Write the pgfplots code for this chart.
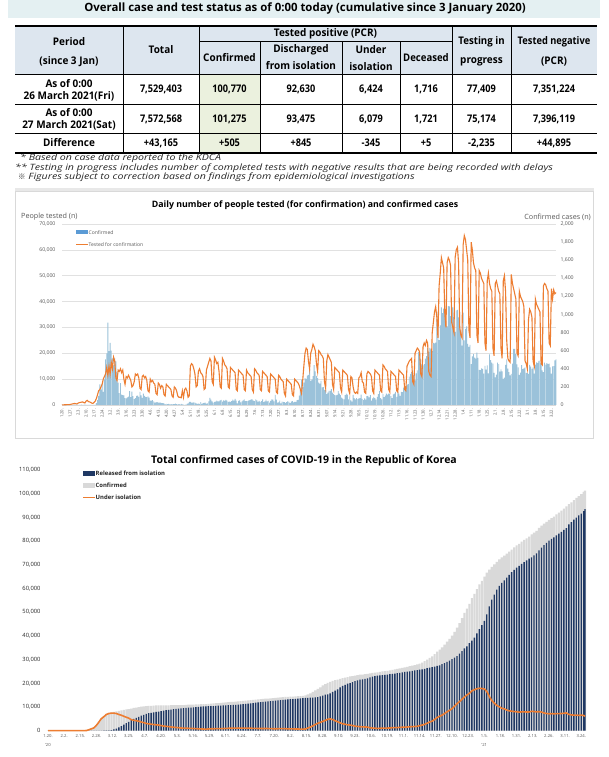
\documentclass[border=0pt]{standalone}
\usepackage{fontspec}
\setmainfont{Open Sans}
\newfontfamily\tabfont{Open Sans}[FakeStretch=0.95]
\newfontfamily\footfont{Open Sans}[FakeStretch=1.22]
\newfontfamily\cjk{Noto Sans CJK KR}
\usepackage{graphicx}
\usepackage{pgfplots}
\usepackage{pgfplotstable}
\pgfplotsset{compat=1.18}
\definecolor{banner}{HTML}{E4F0F2}
\definecolor{hdr}{HTML}{DDE6EF}
\definecolor{conf}{HTML}{EBF1DE}
\definecolor{orng}{HTML}{ED7D31}
\definecolor{barblue}{HTML}{9BC2DA}
\definecolor{legblue}{HTML}{5B9BD5}
\definecolor{navy}{HTML}{1F3864}
\definecolor{lgrey}{HTML}{D9D9D9}
\definecolor{tickc}{HTML}{595959}
\definecolor{dtext}{HTML}{262626}

\pgfplotstableread[row sep=\\]{
v\\
50\\60\\80\\100\\120\\150\\120\\
200\\300\\400\\500\\600\\500\\400\\
700\\900\\1000\\1100\\1200\\900\\800\\
1500\\1800\\1300\\1200\\1000\\700\\600\\
1000\\1500\\2500\\4000\\5500\\6000\\7000\\
8000\\10000\\11000\\12000\\14500\\11500\\15000\\
12000\\16500\\14000\\18500\\17000\\10500\\9500\\
13500\\13000\\14000\\12500\\13500\\10000\\8000\\
11000\\10500\\11500\\10500\\9500\\7000\\7500\\
9000\\12000\\11500\\12000\\10500\\6500\\6000\\
11000\\11500\\10500\\11000\\9500\\5500\\5000\\
10000\\9000\\9500\\8500\\8000\\4500\\4000\\
8500\\8000\\6500\\7500\\7000\\4000\\3500\\
8000\\7500\\7000\\6500\\6000\\3500\\3000\\
7000\\6500\\5500\\3500\\3000\\3000\\2800\\
5500\\3000\\6000\\6500\\5500\\3000\\3500\\
15000\\16000\\15500\\14000\\12000\\7000\\7500\\
13000\\14000\\12500\\12000\\11000\\6000\\6500\\
13500\\15000\\16500\\18000\\17000\\9000\\8000\\
18500\\17500\\16000\\16500\\13000\\7000\\6500\\
18000\\17000\\15500\\15000\\14000\\7000\\6500\\
14500\\14000\\13500\\13000\\12500\\6000\\5500\\
13500\\13000\\12500\\12000\\11500\\6000\\5500\\
13500\\12500\\12000\\11500\\11000\\6000\\5000\\
14000\\13500\\12500\\12000\\11500\\6000\\5500\\
13000\\12500\\12000\\11500\\11000\\5500\\5000\\
12000\\11500\\11000\\10500\\10000\\5000\\4500\\
11500\\11000\\10000\\9500\\9000\\4500\\3500\\
10000\\9500\\9000\\8500\\8000\\4000\\3500\\
10000\\9500\\9000\\8500\\7500\\6000\\4500\\
9500\\15000\\20000\\22000\\21500\\17000\\14000\\
20000\\21500\\23500\\22500\\21000\\16000\\13000\\
21000\\20500\\19500\\19000\\18000\\9000\\6500\\
17000\\19500\\18500\\17500\\16500\\8000\\6000\\
14500\\14000\\13500\\13000\\12500\\6500\\5000\\
13500\\13000\\12500\\12000\\11500\\6000\\4500\\
11000\\10500\\7000\\5000\\4500\\5000\\4500\\
10500\\11000\\12500\\9000\\8500\\5000\\4500\\
12000\\13000\\12500\\12000\\11000\\5500\\4500\\
13500\\13000\\12500\\12000\\11500\\5500\\5000\\
15500\\15000\\14000\\13500\\13000\\6000\\5000\\
13000\\12500\\12000\\11500\\11000\\5500\\5000\\
13500\\13000\\12500\\12000\\11500\\6000\\5500\\
15000\\16000\\17000\\17500\\18000\\9000\\8000\\
20000\\21000\\22000\\21500\\20500\\12000\\11000\\
22500\\24000\\23000\\25000\\24000\\13000\\11500\\
11000\\28000\\32000\\36000\\38000\\34000\\26000\\
46000\\51000\\57000\\55000\\53000\\35000\\30000\\
55000\\57000\\56000\\54000\\32000\\30000\\28000\\
57000\\60000\\61000\\55000\\30000\\27000\\26000\\
62000\\65500\\64000\\60000\\56000\\29000\\26000\\
63000\\60000\\55000\\53000\\52000\\27000\\24000\\
52000\\51000\\49000\\48000\\47000\\24000\\21000\\
48000\\51000\\47000\\45000\\44000\\22000\\19000\\
47000\\48000\\46000\\44000\\43000\\22000\\18000\\
48000\\50000\\44000\\25000\\18000\\17000\\16500\\
50500\\47000\\45000\\43000\\41000\\20000\\19000\\
44000\\42000\\41000\\40000\\38000\\17000\\16000\\
14000\\33000\\37000\\36000\\34000\\17000\\15000\\
41000\\39000\\38000\\37000\\36000\\16000\\15500\\
46000\\47000\\46500\\45000\\44000\\24000\\23000\\
45000\\41000\\44500\\43000\\43500\\
}\tests

\pgfplotstableread[row sep=\\]{
v\\
1\\0\\0\\0\\1\\0\\1\\1\\0\\0\\2\\5\\
1\\3\\0\\1\\2\\4\\1\\0\\3\\0\\1\\0\\0\\0\\0\\1\\0\\1\\20\\53\\100\\229\\169\\231\\144\\284\\505\\571\\909\\
595\\686\\600\\516\\438\\518\\483\\367\\248\\131\\242\\114\\110\\107\\76\\74\\84\\93\\152\\87\\147\\98\\64\\76\\100\\104\\91\\146\\105\\78\\125\\
101\\89\\86\\94\\81\\47\\47\\53\\39\\27\\30\\32\\25\\27\\27\\22\\22\\18\\8\\13\\9\\11\\8\\6\\10\\10\\10\\14\\9\\4\\
9\\6\\13\\8\\3\\2\\4\\12\\18\\34\\35\\27\\26\\29\\27\\19\\13\\15\\13\\32\\12\\20\\23\\25\\16\\19\\40\\79\\58\\39\\27\\
35\\38\\49\\39\\39\\51\\57\\38\\50\\45\\56\\49\\34\\37\\34\\43\\59\\49\\67\\48\\17\\46\\51\\28\\39\\51\\62\\42\\43\\42\\
51\\54\\63\\61\\48\\44\\62\\50\\35\\45\\35\\44\\62\\33\\39\\60\\39\\45\\26\\45\\63\\59\\41\\113\\58\\25\\28\\48\\18\\36\\34\\
31\\23\\33\\43\\34\\20\\36\\43\\28\\34\\34\\54\\56\\103\\166\\279\\197\\246\\297\\288\\324\\332\\397\\266\\280\\320\\441\\371\\323\\299\\248\\
235\\267\\195\\198\\168\\167\\119\\136\\156\\155\\176\\136\\121\\109\\106\\113\\153\\126\\110\\82\\70\\61\\110\\125\\114\\61\\95\\50\\38\\113\\
77\\63\\75\\64\\73\\75\\114\\69\\54\\72\\58\\97\\102\\84\\110\\47\\73\\91\\76\\58\\89\\121\\155\\77\\61\\119\\88\\103\\125\\114\\127\\
124\\97\\75\\118\\125\\145\\89\\143\\126\\100\\146\\143\\191\\205\\208\\223\\230\\313\\343\\363\\386\\330\\271\\349\\382\\583\\569\\504\\450\\438\\
451\\511\\540\\629\\583\\631\\615\\594\\686\\682\\689\\950\\1030\\718\\880\\1078\\1014\\1064\\1097\\926\\869\\1092\\1090\\985\\1100\\1080\\970\\807\\1045\\1050\\967\\
1029\\824\\657\\1020\\715\\840\\869\\674\\641\\665\\451\\537\\562\\524\\513\\580\\520\\389\\386\\404\\400\\346\\431\\392\\437\\349\\559\\497\\469\\458\\355\\
305\\336\\467\\451\\370\\393\\372\\289\\303\\444\\504\\403\\362\\326\\344\\457\\621\\621\\561\\448\\416\\332\\357\\440\\396\\406\\415\\356\\
355\\344\\444\\424\\398\\416\\346\\446\\470\\465\\488\\490\\459\\382\\363\\469\\445\\463\\452\\456\\415\\346\\428\\430\\494\\505\\
}\cases

\pgfplotstableread[row sep=\\]{
d C R I\\
0 1 0 1\\ 1 1 0 1\\ 3 1 0 1\\ 5 2 0 2\\ 7 4 0 4\\ 9 4 0 4\\ 11 11 0 11\\ 13 15 0 15\\
15 16 0 16\\ 17 23 1 22\\ 19 24 2 22\\ 21 27 3 24\\ 23 28 7 21\\ 25 28 7 21\\ 27 29 9 20\\
29 31 12 19\\ 31 104 16 87\\ 33 433 16 415\\ 35 833 18 807\\ 37 1261 22 1227\\ 39 2337 24 2300\\
41 3736 30 3690\\ 43 5186 34 5120\\ 45 6088 108 5940\\ 47 7041 135 6860\\ 49 7478 166 7260\\
51 7755 288 7400\\ 53 7979 510 7400\\ 55 8162 834 7250\\ 57 8320 1401 6830\\ 59 8565 1947 6530\\
61 8799 2612 6080\\ 63 8961 3166 5680\\ 65 9137 3730 5280\\ 67 9332 4528 4660\\ 69 9583 5033 4400\\
71 9786 5408 4220\\ 73 9976 5828 3980\\ 75 10156 6325 3650\\ 77 10284 6694 3410\\ 79 10384 7117 3070\\
81 10450 7368 2870\\ 83 10512 7534 2760\\ 85 10564 7757 2580\\ 87 10635 7937 2470\\ 89 10653 8042 2380\\
91 10674 8277 2160\\ 93 10694 8501 1950\\ 95 10718 8635 1840\\ 97 10738 8764 1730\\ 99 10752 8922 1580\\
101 10774 9059 1470\\ 103 10793 9183 1360\\ 105 10806 9283 1270\\ 107 10810 9419 1135\\ 109 10840 9484 1100\\
111 10909 9610 1040\\ 113 10962 9695 1010\\ 115 11018 9772 980\\ 117 11050 9851 930\\ 119 11078 9938 870\\
121 11122 10066 790\\ 123 11165 10162 740\\ 125 11206 10226 710\\ 127 11225 10295 660\\ 129 11344 10340 735\\
131 11441 10363 810\\ 133 11503 10398 835\\ 135 11590 10467 850\\ 137 11668 10531 865\\ 139 11776 10611 890\\
141 11852 10669 910\\ 143 11947 10718 955\\ 145 12051 10760 1015\\ 147 12121 10800 1040\\ 149 12198 10856 1060\\
151 12306 10930 1095\\ 153 12421 11020 1120\\ 155 12484 11117 1085\\ 157 12563 11172 1110\\ 159 12653 11317 1055\\
161 12757 11429 1045\\ 163 12850 11537 1030\\ 165 12967 11684 1000\\ 167 13091 11832 975\\ 169 13181 11970 925\\
171 13293 12066 940\\ 173 13417 12204 925\\ 175 13512 12282 940\\ 177 13551 12348 910\\ 179 13672 12504 870\\
181 13745 12604 840\\ 183 13816 12698 820\\ 185 13938 12801 840\\ 187 14092 12905 890\\ 189 14175 13007 870\\
191 14251 13106 845\\ 193 14305 13233 770\\ 195 14366 13280 785\\ 197 14423 13352 770\\ 199 14499 13475 720\\
201 14562 13550 710\\ 203 14626 13642 680\\ 205 14714 13727 680\\ 207 14873 13863 705\\ 209 15318 13901 1110\\
211 15761 13934 1520\\ 213 16346 14006 2030\\ 215 17002 14100 2590\\ 217 17665 14219 3135\\ 219 18265 14461 3490\\
221 19077 14818 3940\\ 223 19699 15198 4300\\ 225 20182 15356 4800\\ 227 20644 15769 5000\\ 229 21010 16427 4700\\
231 21296 16863 4200\\ 233 21588 17474 3770\\ 235 21919 18253 3310\\ 237 22176 18888 2920\\ 239 22391 19310 2710\\
241 22657 19817 2470\\ 243 22893 20125 2380\\ 245 23045 20487 2170\\ 247 23216 20905 1920\\ 249 23455 21257 1800\\
251 23611 21533 1680\\ 253 23699 21704 1590\\ 255 23889 21893 1580\\ 257 24027 22088 1520\\ 259 24164 22504 1240\\
261 24353 22812 1120\\ 263 24476 22998 1050\\ 265 24606 23197 980\\ 267 24805 23345 1020\\ 269 24988 23443 1100\\
271 25108 23568 1090\\ 273 25275 23712 1110\\ 275 25424 23822 1150\\ 277 25698 23975 1270\\ 279 25836 24080 1300\\
281 26043 24259 1320\\ 283 26271 24395 1410\\ 285 26511 24600 1450\\ 287 26732 24790 1480\\ 289 26925 24910 1550\\
291 27195 25078 1650\\ 293 27427 25260 1700\\ 295 27653 25412 1770\\ 297 27942 25597 1860\\ 299 28338 25717 2130\\
301 28769 25916 2360\\ 303 29311 26117 2690\\ 305 30017 26365 3150\\ 307 30733 26566 3660\\ 309 31353 26825 4010\\
311 32318 27074 4730\\ 313 33375 27326 5530\\ 315 34201 27598 6070\\ 317 35163 28065 6570\\ 319 36332 28552 7230\\
321 37546 28998 7990\\ 323 38745 29612 8560\\ 325 40098 30200 9310\\ 327 41736 30874 10260\\ 329 43484 31493 11380\\
331 45442 32559 12260\\ 333 47515 33610 13230\\ 335 49665 34714 14210\\ 337 51460 35598 15090\\ 339 53533 36997 15730\\
341 55902 38000 16800\\ 343 57680 39300 17300\\ 345 59773 41100 17700\\ 347 61769 42900 17900\\ 349 63244 44500 17800\\
351 64979 46300 17600\\ 353 66686 49100 16500\\ 355 68004 52500 14500\\ 357 69114 55291 12700\\ 359 70212 57410 11630\\
361 71241 59500 10660\\ 363 72340 61095 10140\\ 365 73115 62370 9480\\ 367 73918 63450 9220\\ 369 74692 64626 8730\\
371 75521 65784 8380\\ 373 76429 66870 8220\\ 375 77395 67905 8070\\ 377 78205 68773 7990\\ 379 78844 69589 7820\\
381 79762 70357 7960\\ 383 80524 71145 7940\\ 385 81185 71842 7900\\ 387 81930 72581 7900\\ 389 82837 73180 8190\\
391 83525 73960 8070\\ 393 84325 74850 7960\\ 395 85567 76038 8010\\ 397 86576 77197 7860\\ 399 87324 78316 7470\\
401 88120 79299 7270\\ 403 88922 80220 7150\\ 405 89676 80915 7180\\ 407 90372 81596 7160\\ 409 91240 82439 7180\\
411 92055 83200 7230\\ 413 92817 83941 7240\\ 415 93733 84698 7370\\ 417 94686 85520 7490\\ 419 95635 87098 6860\\
421 96380 88024 6670\\ 423 97294 89045 6560\\ 425 98209 89952 6560\\ 427 98971 90807 6470\\ 429 99846 91551 6590\\
431 100770 92630 6424\\ 432 101275 93475 6079\\
}\cum

\newcommand\tb{\tabfont\fontsize{10.5}{12}\selectfont\bfseries}

\pgfplotsset{
  cone/.style={at={(62pt,352pt)}, anchor=south west, scale only axis,
    width=494pt, height=181pt, xmin=0, xmax=431, clip=false,
    major tick length=0pt, scaled y ticks=false,
    /pgf/number format/fixed, /pgf/number format/precision=0,
    /pgf/number format/1000 sep={,},
    /pgf/number format/assume math mode=true},
}

\begin{document}
\begin{tikzpicture}[x=1pt,y=1pt]
\path[use as bounding box] (0,0) rectangle (608,757);
\fill[white] (0,0) rectangle (608,757);
% ---------- banner ----------
\fill[banner] (8,757) rectangle (600,739);
\node[font=\fontsize{11.4}{13}\selectfont\bfseries, inner sep=0pt] at (305,748.3)
  {Overall case and test status as of 0:00 today (cumulative since 3 January 2020)};
% ---------- table ----------
\fill[hdr] (15,757-26) rectangle (597,757-74);
\fill[conf] (199,757-74) rectangle (260,757-153);
\draw[line width=1.3pt] (15,757-26) -- (597,757-26);
\draw[line width=0.6pt] (199,757-41.7) -- (452,757-41.7);
\draw[line width=0.9pt] (15,757-74) -- (597,757-74);
\draw[line width=0.7pt] (15,757-104) -- (597,757-104);
\draw[line width=0.7pt] (15,757-133) -- (597,757-133);
\draw[line width=1.3pt] (15,757-153) -- (597,757-153);
\foreach \x in {123,199,452,511} \draw[line width=0.6pt] (\x,757-26) -- (\x,757-153);
\foreach \x in {260,342,400} \draw[line width=0.6pt] (\x,757-41.7) -- (\x,757-153);
\begin{scope}[every node/.style={font=\tb, inner sep=0pt}]
\node at (69,757-42) {Period};
\node at (69,757-62) {(since 3 Jan)};
\node at (161,757-50) {Total};
\node at (325.5,757-34) {Tested positive (PCR)};
\node at (229.5,757-58) {Confirmed};
\node at (301,757-50) {Discharged};
\node at (301,757-65.5) {from isolation};
\node at (371,757-50) {Under};
\node at (371,757-66.5) {isolation};
\node at (426,757-58) {\scalebox{0.96}[1]{Deceased}};
\node at (481.5,757-42) {\scalebox{0.97}[1]{Testing in}};
\node at (481.5,757-62) {progress};
\node at (554,757-42) {\scalebox{0.93}[1]{Tested negative}};
\node at (554,757-62) {(PCR)};
\node at (69,757-84) {As of 0:00};
\node at (69,757-96) {26 March 2021(Fri)};
\node at (69,757-113) {As of 0:00};
\node at (69,757-125) {27 March 2021(Sat)};
\node at (69,757-143) {Difference};
\foreach \x/\a/\b/\c in {161/7{,}529{,}403/7{,}572{,}568/+43{,}165,
  229.5/100{,}770/101{,}275/+505, 301/92{,}630/93{,}475/+845,
  371/6{,}424/6{,}079/-345, 426/1{,}716/1{,}721/+5,
  481.5/77{,}409/75{,}174/-2{,}235, 554/7{,}351{,}224/7{,}396{,}119/+44{,}895}
  {\node at (\x,757-89.5) {\scalebox{0.92}[1]{\a}}; \node at (\x,757-119) {\scalebox{0.92}[1]{\b}}; \node at (\x,757-143) {\scalebox{0.92}[1]{\c}};}
\end{scope}
% ---------- footnotes ----------
\begin{scope}[every node/.style={font=\footfont\fontsize{8.7}{9}\selectfont\itshape, inner sep=0pt, anchor=west, text=dtext}]
\node at (20,757-158.5) {* Based on case data reported to the KDCA};
\node at (15,757-168) {** Testing in progress includes number of completed tests with negative results that are being recorded with delays};
\node at (18,757-177.5) {{\cjk\upshape\fontsize{7.5}{8}\selectfont ※} Figures subject to correction based on findings from epidemiological investigations};
\end{scope}
% ---------- chart 1 frame ----------
\fill[gray!18] (15,757-188) rectangle (594,757-192);
\draw[lgrey, line width=0.8pt] (15,757-191) rectangle (593,757-438);
\node[font=\fontsize{8.8}{10}\selectfont\bfseries, inner sep=0pt] at (305,757-205)
  {Daily number of people tested (for confirmation) and confirmed cases};
\node[font=\fontsize{7.2}{8}\selectfont, text=tickc, anchor=west, inner sep=0pt] at (21,757-217) {People tested (n)};
\node[font=\fontsize{7.2}{8}\selectfont, text=tickc, anchor=east, inner sep=0pt] at (591,757-217) {Confirmed cases (n)};
% grid + left axis + x labels
\begin{axis}[cone, ymin=0, ymax=70000, ytick={0,10000,...,70000},
  ymajorgrids, grid style={draw=lgrey!80, line width=0.5pt},
  axis y line*=left, y axis line style={draw=none},
  axis x line*=bottom, x axis line style={draw=lgrey},
  yticklabel style={font=\fontsize{5.2}{6}\selectfont, text=tickc, xshift=-3pt},
  xtick={0,7,...,427},
  xticklabels={1.20.,1.27.,2.3.,2.10.,2.17.,2.24.,3.2.,3.9.,3.16.,3.23.,3.30.,4.6.,4.13.,4.20.,4.27.,5.4.,5.11.,5.18.,5.25.,6.1.,6.8.,6.15.,6.22.,6.29.,7.6.,7.13.,7.20.,7.27.,8.3.,8.10.,8.17.,8.24.,8.31.,9.07.,9.14.,9.21.,9.28.,10.5.,10.12.,10.19.,10.26.,11.2.,11.9.,11.16.,11.23.,11.30.,12.7.,12.14.,12.21.,12.28.,1.4.,1.11.,1.18.,1.25.,2.1.,2.8.,2.15.,2.22.,3.1.,3.8.,3.15.,3.22.},
  xticklabel style={rotate=90, anchor=east, font=\fontsize{4.2}{4.2}\selectfont, text=tickc}]
\end{axis}
% bars on right axis
\begin{axis}[cone, ymin=0, ymax=2000, ytick={0,200,...,2000},
  hide x axis, axis y line*=right, y axis line style={draw=none},
  yticklabel style={font=\fontsize{5.2}{6}\selectfont, text=tickc, xshift=1pt}]
\addplot[ybar, bar shift=0pt, bar width=0.75, fill=barblue, draw=none] table[x expr=\coordindex, y=v]{\cases};
\end{axis}
% tests line
\begin{axis}[cone, ymin=0, ymax=70000, hide axis]
\addplot[orng, line width=1.1pt, no marks] table[x expr=\coordindex, y=v]{\tests};
\end{axis}
% legend chart 1
\fill[legblue] (76,757-230.5) rectangle (88,757-234);
\node[font=\fontsize{5}{5}\selectfont, text=tickc, anchor=west, inner sep=0.5pt] at (88,757-232.2) {Confirmed};
\draw[orng, line width=1pt] (76,757-245) -- (88,757-245);
\node[font=\fontsize{5}{5}\selectfont, text=tickc, anchor=west, inner sep=0.5pt] at (88,757-245) {Tested for confirmation};
% ---------- chart 3 ----------
\node[font=\fontsize{10.5}{12}\selectfont\bfseries, inner sep=0pt] at (304,757-461)
  {Total confirmed cases of COVID-19 in the Republic of Korea};
\begin{axis}[at={(48pt,26.3pt)}, anchor=south west, scale only axis,
  width=537pt, height=260.7pt, xmin=0, xmax=432, ymin=0, ymax=110000, clip=false,
  major tick length=0pt, scaled y ticks=false,
  /pgf/number format/fixed, /pgf/number format/precision=0,
  /pgf/number format/1000 sep={,}, /pgf/number format/assume math mode=true,
  axis y line*=left, y axis line style={draw=none},
  axis x line*=bottom, x axis line style={draw=lgrey},
  ytick={0,10000,...,110000},
  yticklabel style={font=\fontsize{5.8}{6}\selectfont, text=dtext, xshift=-4pt},
  xtick={0,13,...,429},
  xticklabels={1.20.,2.2.,2.15.,2.28.,3.12.,3.25.,4.7.,4.20.,5.3.,5.16.,5.29.,6.11.,6.24.,7.7.,7.20.,8.2.,8.15.,8.28.,9.10.,9.23.,10.6.,10.19.,11.1.,11.14.,11.27.,12.10.,12.23.,1.5.,1.18.,1.31.,2.13.,2.26.,3.11.,3.24.},
  xticklabel style={font=\fontsize{4.2}{4.6}\selectfont, text=tickc}]
\addplot[ybar, bar shift=0pt, bar width=1.7, fill=lgrey, draw=none] table[x=d, y=C]{\cum};
\addplot[ybar, bar shift=0pt, bar width=1.1, fill=navy, draw=none] table[x=d, y=R]{\cum};
\addplot[orng, line width=1.6pt, smooth, no marks] table[x=d, y=I]{\cum};
\end{axis}
\node[font=\fontsize{4.2}{4.6}\selectfont, text=tickc, inner sep=0pt] at (48,757-745) {’20};
\node[font=\fontsize{4.2}{4.6}\selectfont, text=tickc, inner sep=0pt] at (484.3,757-745) {’21};
% legend chart 3
\fill[navy] (83,757-471) rectangle (95,757-476);
\node[font=\fontsize{5.9}{6}\selectfont\bfseries, text=dtext, anchor=west, inner sep=0.5pt] at (95,757-473.5) {Released from isolation};
\fill[lgrey] (83,757-483) rectangle (95,757-488);
\node[font=\fontsize{5.9}{6}\selectfont\bfseries, text=dtext, anchor=west, inner sep=0.5pt] at (95,757-485.5) {Confirmed};
\draw[orng, line width=1.4pt] (83,757-497.5) -- (95,757-497.5);
\node[font=\fontsize{5.9}{6}\selectfont\bfseries, text=dtext, anchor=west, inner sep=0.5pt] at (95,757-497.5) {Under isolation};
\end{tikzpicture}
\end{document}
